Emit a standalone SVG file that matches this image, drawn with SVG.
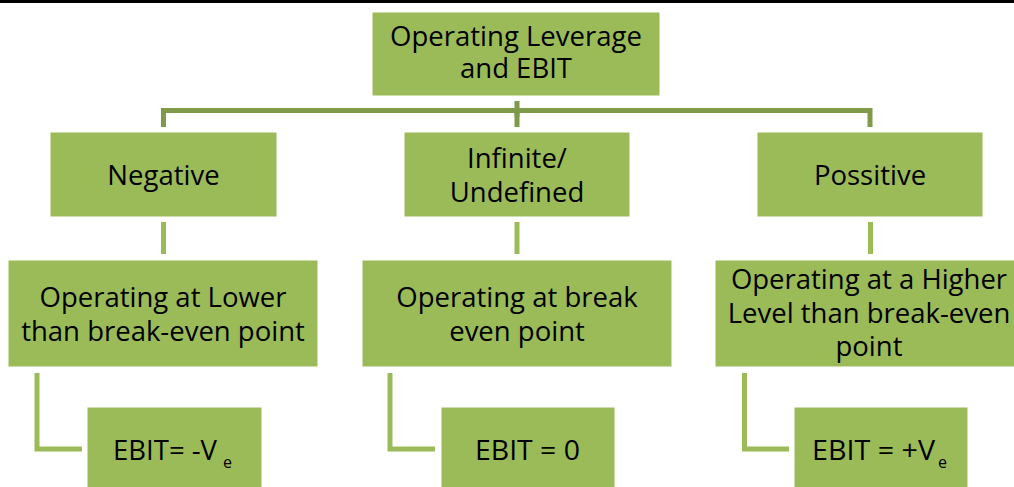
<svg xmlns="http://www.w3.org/2000/svg" width="1014" height="487" viewBox="0 0 1014 487">
<style>
.box{fill:#9BBB59;stroke:#ffffff;stroke-width:1}
.t{font-family:"Open Sans","Noto Sans","DejaVu Sans",sans-serif;font-size:27.5px;fill:#000;text-anchor:middle}
.tc{font-family:"Open Sans","Noto Sans","DejaVu Sans",sans-serif;font-size:28px;fill:#000}
.sub{font-family:"Open Sans","Noto Sans","DejaVu Sans",sans-serif;font-size:16px;fill:#000}
.c1{fill:none;stroke:#7F9A48;stroke-width:5}
.c2{fill:none;stroke:#9BBB59;stroke-width:5}
</style>
<rect x="0" y="0" width="1014" height="3" fill="#000"/>
<g id="connectors">
<path class="c1" d="M517 101 V117"/>
<path class="c1" d="M163.5 127 V110.5 H870 V127"/>
<path class="c1" d="M517 110 V127"/>
<path class="c2" d="M163.5 222 V254"/>
<path class="c2" d="M517 222 V254"/>
<path class="c2" d="M870.5 222 V254"/>
<path class="c2" d="M37 373 V449 H82"/>
<path class="c2" d="M390 373 V449 H435"/>
<path class="c2" d="M744.5 373 V449 H789"/>
</g>
<g id="root">
<rect class="box" x="372" y="12" width="288" height="84"/>
<text class="t" x="516" y="46" font-size="24.5" textLength="252" lengthAdjust="spacingAndGlyphs">Operating Leverage</text>
<text class="t" x="516" y="78" font-size="24.5" textLength="112" lengthAdjust="spacingAndGlyphs">and EBIT</text>
</g>
<g id="negative">
<rect class="box" x="50" y="132" width="227" height="85"/>
<text class="t" x="163.5" y="185">Negative</text>
</g>
<g id="infinite">
<rect class="box" x="404" y="132" width="226" height="85"/>
<text class="t" x="517" y="168">Infinite/</text>
<text class="t" x="517" y="202">Undefined</text>
</g>
<g id="positive">
<rect class="box" x="757" y="132" width="226" height="85"/>
<text class="t" x="870" y="185">Possitive</text>
</g>
<g id="lower">
<rect class="box" x="8" y="260" width="310" height="107"/>
<text class="t" x="163" y="307">Operating at Lower</text>
<text class="t" x="163" y="341">than break-even point</text>
</g>
<g id="breakeven">
<rect class="box" x="362" y="260" width="310" height="107"/>
<text class="t" x="517" y="307">Operating at break</text>
<text class="t" x="517" y="341">even point</text>
</g>
<g id="higher">
<rect class="box" x="715" y="260" width="310" height="107"/>
<text class="t" x="869" y="289" font-size="26.5">Operating at a Higher</text>
<text class="t" x="869" y="323" font-size="26.5">Level than break-even</text>
<text class="t" x="869" y="356" font-size="26.5">point</text>
</g>
<g id="ebit-neg">
<rect class="box" x="87" y="407" width="175" height="85"/>
<text class="tc" x="113" y="460" textLength="104" lengthAdjust="spacingAndGlyphs">EBIT= -V</text>
<text class="sub" x="223" y="468">e</text>
</g>
<g id="ebit-zero">
<rect class="box" x="441" y="407" width="174" height="85"/>
<text class="tc" x="475" y="460" textLength="105" lengthAdjust="spacingAndGlyphs">EBIT = 0</text>
</g>
<g id="ebit-pos">
<rect class="box" x="794" y="407" width="174" height="85"/>
<text class="tc" x="812" y="460" textLength="123" lengthAdjust="spacingAndGlyphs">EBIT = +V</text>
<text class="sub" x="938" y="468">e</text>
</g>
</svg>
